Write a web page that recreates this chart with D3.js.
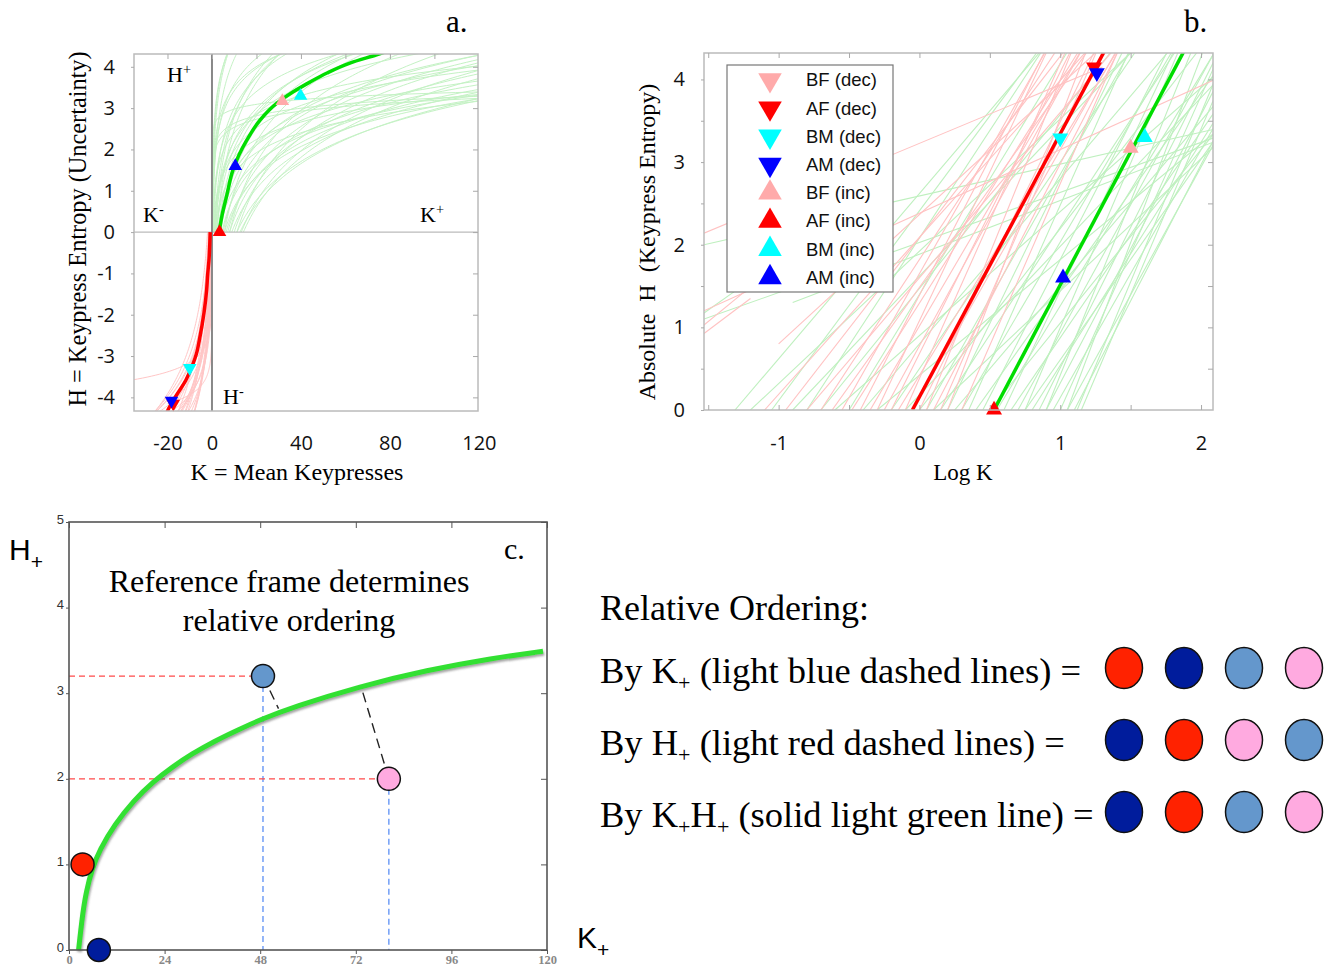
<!DOCTYPE html>
<html><head><meta charset="utf-8">
<script src="https://cdn.jsdelivr.net/npm/d3@7"></script>
<style>body{margin:0;background:#fff} svg{display:block}</style>
</head><body>
<svg id="chart" width="1332" height="966"></svg>
<script>
// ================= DATA =================
// Summary markers shared by panels a and b: |log10 K| and |H|
const markerNames = ["BF (dec)","AF (dec)","BM (dec)","AM (dec)","BF (inc)","AF (inc)","BM (inc)","AM (inc)"];
const markerFill  = ["#ffaaaa","#ff0000","#00ffff","#0000ff","#ffaaaa","#ff0000","#00ffff","#0000ff"];
const markerDir   = ["dec","dec","dec","dec","inc","inc","inc","inc"];
const markerLogK  = [null, 1.24, 1.00, 1.26, 1.50, 0.53, 1.60, 1.02];
const markerAbsH  = [null, 4.15, 3.29, 4.08, 3.17, 0.00, 3.30, 1.60];

// Panel a: group mean curves (K, H)
const aIncK = [3.2, 4.5, 6.7, 9.4, 15.7, 21.6, 29.2, 36.4, 44, 51.7, 62, 74, 78];
const aIncH = [0, 0.4, 0.9, 1.5, 2.23, 2.71, 3.12, 3.39, 3.63, 3.85, 4.09, 4.29, 4.36];
const aDecK = [-0.8, -1.0, -1.35, -1.9, -2.4, -3.6, -5.7, -6.9, -9.1, -11.7, -16.6, -20, -21];
const aDecH = [0, -0.3, -0.68, -1.0, -1.4, -1.96, -2.62, -2.93, -3.27, -3.58, -4.0, -4.33, -4.45];
const aXTickLabels = [-20, 0, 40, 80, 120];
const aYTickLabels = [-4, -3, -2, -1, 0, 1, 2, 3, 4];

// Panel b: group mean lines [logK, H] endpoints
const bIncLine = [[0.53, 0], [1.875, 4.33]];
const bDecLine = [[-0.05, 0], [1.31, 4.33]];
const bXTickLabels = [-1, 0, 1, 2];
const bYTickLabels = [0, 1, 2, 3, 4];

// Individual subject fits, in panel-b space: [logK0, H0, logK1, H1]
const posFaint = [
  [-1.31,0,0.94,4.5],[-1.2,0,1.61,4.5],[-1.05,0,0.91,4.5],[-0.9,0,1.6,4.5],[-0.8,0,0.93,4.5],
  [-0.7,0,1.44,4.5],[-0.6,0,2.1,4.05],[-0.5,0,1.11,4.5],[-0.4,0,1.85,4.5],[-0.3,0,2.1,3.36],
  [-0.2,0,1.6,4.5],[-0.1,0,2.1,3.96],[0.0,0,2.05,4.5],[0.05,0,1.55,4.5],[0.1,0,2.1,3.2],
  [0.15,0,1.88,4.5],[0.2,0,1.49,4.5],[0.25,0,2.1,3.7],[0.3,0,1.85,4.5],[0.35,0,1.53,4.5],
  [0.4,0,2.1,4.08],[0.45,0,1.81,4.5],[0.5,0,2.1,3.36],[0.55,0,2.1,4.34],[0.6,0,1.85,4.5],
  [0.65,0,2.1,3.62],[0.7,0,2.15,4.5],[0.75,0,1.88,4.5],[0.8,0,2.1,3.51],[0.85,0,2.1,4.25],
  [0.9,0,1.97,4.5],[0.95,0,2.1,3.45],[1.0,0,2.1,4.18],[1.05,0,2.05,4.5],[1.1,0,2.1,3.3],
  [1.15,0,2.1,3.8],[1.05,0,2.1,3.25],[0.9,0,2.1,3.9],[0.75,0,2.1,3.28],[1.12,0,2.1,4.0],
  [-1.55,1.15,-1.3,1.45],[-1.53,1.1,2.1,3.3],[-1.53,2.0,2.1,3.4],[-0.9,1.3,2.1,3.25]
];
const negFaint = [
  [-1.1,0,1.27,4.5],[-0.95,0,1.1,4.5],[-0.8,0,1.45,4.5],[-0.7,0,1.03,4.5],[-0.62,0,1.26,4.5],
  [-0.55,0,0.95,4.5],[-0.48,0,1.19,4.5],[-0.42,0,0.94,4.5],[-0.35,0,1.2,4.5],[-0.3,0,0.95,4.5],
  [-0.25,0,1.2,4.5],[-0.2,0,1.12,4.5],[-0.15,0,1.46,4.5],[-0.1,0,1.08,4.5],[-0.05,0,1.45,4.5],
  [0.0,0,1.29,4.5],[0.05,0,1.12,4.5],[0.1,0,1.46,4.5],[0.15,0,1.3,4.5],[0.2,0,1.22,4.5],
  [0.3,0,1.45,4.5],[-1.53,2.14,1.3,4.15],[-1.55,0.9,-1.2,1.35],[-1.55,1.0,-1.25,1.42],
  [-1.53,1.2,2.1,4.0],[-1.0,0.8,1.3,4.4]
];

// Panel c
const cCurveK = [2.4,3.4,4.3,5.8,7.7,11.5,16.3,21.2,26,30.8,36.5,42.3,48,56.3,73,89.9,106.4,119];
const cCurveH = [0,0.42,0.68,0.95,1.17,1.47,1.75,1.97,2.14,2.29,2.44,2.57,2.69,2.84,3.08,3.27,3.41,3.49];
const circleNames = ["red","navy","steel","pink"];
const circleColor = {red:"#ff2200", navy:"#001c9c", steel:"#6497cc", pink:"#ffaae0"};
const circleK = [3.4, 7.5, 48.7, 80.3];
const circleH = [1.0, 0.0, 3.2, 2.0];
const dashedIdx = [2, 3];                       // circles with projection lines
const connectors = [[48.7,3.2,52.6,2.82],[80.3,2.0,73.3,3.08]];
const cXTicks = [0,24,48,72,96,120];
const cYTicks = [0,1,2,3,4,5];

// Relative ordering rows
const orderLabels = [
  [["By K",""],["+","sub"],[" (light blue dashed lines) =",""]],
  [["By H",""],["+","sub"],[" (light red dashed lines) =",""]],
  [["By K",""],["+","sub"],["H",""],["+","sub"],[" (solid light green line) =",""]]
];
const orderRows = [
  ["red","navy","steel","pink"],
  ["navy","red","pink","steel"],
  ["navy","red","steel","pink"]
];

// ================= DRAWING =================
const svg = d3.select("#chart");
const serif = "'Liberation Serif','Times New Roman',serif";
const sans = "'Liberation Sans',Arial,sans-serif";
const tickFont = "'Open Sans','Noto Sans',sans-serif";
const fmt = d => String(d);
const defs = svg.append("defs");

function clip(id, b){
  defs.append("clipPath").attr("id", id).append("rect")
    .attr("x", b.l).attr("y", b.t).attr("width", b.r-b.l).attr("height", b.b-b.t);
}
const tri = size => d3.symbol().type(d3.symbolTriangle).size(size)();
function styleTicks(g, col){ g.select(".domain").remove(); g.selectAll("line").attr("stroke",col||"#aaa"); }

// ---------- Panel a ----------
const A = {l:134, r:478, t:54, b:411};
const xa = d3.scaleLinear().domain([-35.06, 119.6]).range([A.l, A.r]);
const ya = d3.scaleLinear().domain([-4.33, 4.31]).range([A.b, A.t]);
clip("clipA", A);
const gA = svg.append("g");
const lineA = d3.line().x(d=>xa(d[0])).y(d=>ya(d[1]));

function segToLin(seg, sign){
  const [x0,h0,x1,h1] = seg;
  return d3.range(0, 121).map(i => {
    const t = i/120, lk = x0 + (x1-x0)*t, h = h0 + (h1-h0)*t;
    return [sign*Math.pow(10, lk), sign*h];
  });
}
const fA = gA.append("g").attr("clip-path","url(#clipA)");
fA.selectAll(".pf").data(posFaint).join("path")
  .attr("d", d=>lineA(segToLin(d, 1))).attr("fill","none")
  .attr("stroke","#c4f2c4").attr("stroke-width",1);
fA.selectAll(".nf").data(negFaint).join("path")
  .attr("d", d=>lineA(segToLin(d, -1))).attr("fill","none")
  .attr("stroke","#ffc6c6").attr("stroke-width",1);
gA.append("line").attr("x1",A.l).attr("x2",A.r).attr("y1",ya(0)).attr("y2",ya(0))
  .attr("stroke","#bbb").attr("stroke-width",1.2);
gA.append("line").attr("x1",xa(0)).attr("x2",xa(0)).attr("y1",A.t).attr("y2",A.b)
  .attr("stroke","#888").attr("stroke-width",2);
const curveA = d3.line().x(d=>xa(d[0])).y(d=>ya(d[1])).curve(d3.curveMonotoneY);
const mA = gA.append("g").attr("clip-path","url(#clipA)");
mA.append("path").attr("d", curveA(aIncK.map((k,i)=>[k,aIncH[i]])))
  .attr("fill","none").attr("stroke","#00dd00").attr("stroke-width",3.5);
mA.append("path").attr("d", curveA(aDecK.map((k,i)=>[k,aDecH[i]])))
  .attr("fill","none").attr("stroke","#ff0000").attr("stroke-width",3.5);
markerNames.forEach((n,i)=>{
  if (markerLogK[i]===null) return;
  const s = markerDir[i]==="inc" ? 1 : -1;
  const K = s*Math.pow(10, markerLogK[i]), Hh = s*markerAbsH[i];
  gA.append("path").attr("d", tri(80))
    .attr("transform", `translate(${xa(K)},${ya(Hh)}) rotate(${s>0?0:180})`)
    .attr("fill", markerFill[i]);
});
gA.append("rect").attr("x",A.l).attr("y",A.t).attr("width",A.r-A.l).attr("height",A.b-A.t)
  .attr("fill","none").attr("stroke","#bbb").attr("stroke-width",1.5);
gA.append("g").attr("transform",`translate(0,${A.t})`)
  .call(d3.axisTop(xa).tickValues([-20,0,20,40,60,80,100]).tickSize(-5).tickFormat("")).call(styleTicks);
gA.append("g").attr("transform",`translate(${A.r},0)`)
  .call(d3.axisRight(ya).tickValues(aYTickLabels).tickSize(-5).tickFormat("")).call(styleTicks);
gA.append("g").attr("transform",`translate(${A.l},0)`)
  .call(d3.axisLeft(ya).tickValues(aYTickLabels).tickSize(3).tickFormat("")).call(styleTicks);
const axA = gA.append("g").attr("transform",`translate(0,436)`)
  .call(d3.axisBottom(xa).tickValues(aXTickLabels).tickSize(0).tickPadding(0).tickFormat(fmt));
axA.select(".domain").remove();
axA.selectAll("text").attr("font-family",tickFont).attr("font-size",20).attr("fill","#111");
const ayA = gA.append("g").attr("transform",`translate(115,0)`)
  .call(d3.axisLeft(ya).tickValues(aYTickLabels).tickSize(0).tickPadding(0).tickFormat(fmt));
ayA.select(".domain").remove();
ayA.selectAll("text").attr("font-family",tickFont).attr("font-size",20).attr("fill","#111");
gA.append("text").attr("x",297).attr("y",480).attr("text-anchor","middle")
  .attr("font-family",serif).attr("font-size",24).text("K = Mean Keypresses");
gA.append("text").attr("transform","translate(86,229) rotate(-90)").attr("text-anchor","middle")
  .attr("font-family",serif).attr("font-size",24.3).text("H = Keypress Entropy (Uncertainty)");
function supText(g, x, y, base, sup, fs){
  const t = g.append("text").attr("x",x).attr("y",y).attr("font-family",serif).attr("font-size",fs);
  t.append("tspan").text(base);
  t.append("tspan").attr("dy",-fs*0.38).attr("font-size",fs*0.65).text(sup);
}
supText(gA, 167, 82, "H", "+", 22);
supText(gA, 143, 222, "K", "-", 22);
supText(gA, 420, 222, "K", "+", 22);
supText(gA, 223, 404, "H", "-", 22);
gA.append("text").attr("x",446).attr("y",32).attr("font-family",serif).attr("font-size",31).text("a.");

// ---------- Panel b ----------
const B = {l:704, r:1213, t:53, b:410};
const xb = d3.scaleLinear().domain([-1.53, 2.085]).range([B.l, B.r]);
const yb = d3.scaleLinear().domain([0, 4.32]).range([B.b, B.t]);
clip("clipB", B);
const gB = svg.append("g");
const fB = gB.append("g").attr("clip-path","url(#clipB)");
fB.selectAll(".pf").data(posFaint).join("line")
  .attr("x1",d=>xb(d[0])).attr("y1",d=>yb(d[1])).attr("x2",d=>xb(d[2])).attr("y2",d=>yb(d[3]))
  .attr("stroke","#bff0bf").attr("stroke-width",1.1);
fB.selectAll(".nf").data(negFaint).join("line")
  .attr("x1",d=>xb(d[0])).attr("y1",d=>yb(d[1])).attr("x2",d=>xb(d[2])).attr("y2",d=>yb(d[3]))
  .attr("stroke","#ffc2c2").attr("stroke-width",1.1);
const lineB = d3.line().x(d=>xb(d[0])).y(d=>yb(d[1]));
fB.append("path").attr("d", lineB(bDecLine)).attr("stroke","#ff0000").attr("stroke-width",3.5).attr("fill","none");
fB.append("path").attr("d", lineB(bIncLine)).attr("stroke","#00dd00").attr("stroke-width",3.5).attr("fill","none");
markerNames.forEach((n,i)=>{
  if (markerLogK[i]===null) return;
  gB.append("path").attr("d", tri(110))
    .attr("transform", `translate(${xb(markerLogK[i])},${yb(markerAbsH[i])}) rotate(${markerDir[i]==="inc"?0:180})`)
    .attr("fill", markerFill[i]);
});
gB.append("rect").attr("x",B.l).attr("y",B.t).attr("width",B.r-B.l).attr("height",B.b-B.t)
  .attr("fill","none").attr("stroke","#bbb").attr("stroke-width",1.5);
gB.append("g").attr("transform",`translate(0,${B.t})`)
  .call(d3.axisTop(xb).tickValues(d3.range(-1.5,2.01,0.5)).tickSize(-5).tickFormat("")).call(styleTicks);
gB.append("g").attr("transform",`translate(0,${B.b})`)
  .call(d3.axisBottom(xb).tickValues(d3.range(-1.5,2.01,0.5)).tickSize(-5).tickFormat("")).call(styleTicks);
gB.append("g").attr("transform",`translate(${B.r},0)`)
  .call(d3.axisRight(yb).tickValues(d3.range(0.5,4.01,0.5)).tickSize(-5).tickFormat("")).call(styleTicks);
gB.append("g").attr("transform",`translate(${B.l},0)`)
  .call(d3.axisLeft(yb).tickValues(d3.range(0,4.01,0.5)).tickSize(3).tickFormat("")).call(styleTicks);
const axB = gB.append("g").attr("transform",`translate(0,436)`)
  .call(d3.axisBottom(xb).tickValues(bXTickLabels).tickSize(0).tickPadding(0).tickFormat(fmt));
axB.select(".domain").remove();
axB.selectAll("text").attr("font-family",tickFont).attr("font-size",20).attr("fill","#111");
const ayB = gB.append("g").attr("transform",`translate(685,0)`)
  .call(d3.axisLeft(yb).tickValues(bYTickLabels).tickSize(0).tickPadding(0).tickFormat(fmt));
ayB.select(".domain").remove();
ayB.selectAll("text").attr("font-family",tickFont).attr("font-size",20).attr("fill","#111");
gB.append("text").attr("x",963).attr("y",480).attr("text-anchor","middle")
  .attr("font-family",serif).attr("font-size",23).text("Log K");
gB.append("text").attr("transform","translate(655,242) rotate(-90)").attr("text-anchor","middle")
  .attr("font-family",serif).attr("font-size",24).style("white-space","pre")
  .text("Absolute  H  (Keypress Entropy)");
gB.append("text").attr("x",1184).attr("y",32).attr("font-family",serif).attr("font-size",31).text("b.");
const leg = gB.append("g");
leg.append("rect").attr("x",727).attr("y",65).attr("width",166).attr("height",227)
  .attr("fill","#fff").attr("stroke","#777").attr("stroke-width",1.2);
markerNames.forEach((n,i)=>{
  const y = 80 + i*28.2;
  leg.append("path").attr("d", tri(240))
    .attr("transform",`translate(770,${y}) rotate(${markerDir[i]==="inc"?0:180})`)
    .attr("fill", markerFill[i]);
  leg.append("text").attr("x",806).attr("y",y).attr("dy","0.35em")
    .attr("font-family",sans).attr("font-size",18.5).attr("fill","#111").text(n);
});

// ---------- Panel c ----------
const C = {l:69, r:547, t:522, b:950};
const xc = d3.scaleLinear().domain([0,120]).range([C.l, C.r]);
const yc = d3.scaleLinear().domain([0,5]).range([C.b, C.t]);
const gC = svg.append("g");
const flt = defs.append("filter").attr("id","shadow").attr("x","-10%").attr("y","-10%").attr("width","120%").attr("height","120%");
flt.append("feDropShadow").attr("dx",1).attr("dy",2).attr("stdDeviation",1.2)
  .attr("flood-color","#555").attr("flood-opacity",0.55);
dashedIdx.forEach(i=>{
  gC.append("line").attr("x1",xc(0)).attr("x2",xc(circleK[i])).attr("y1",yc(circleH[i])).attr("y2",yc(circleH[i]))
    .attr("stroke","#ff4a4a").attr("stroke-width",1.3).attr("stroke-dasharray","6,4");
  gC.append("line").attr("x1",xc(circleK[i])).attr("x2",xc(circleK[i])).attr("y1",yc(circleH[i])).attr("y2",yc(0))
    .attr("stroke","#5b8ff5").attr("stroke-width",1.3).attr("stroke-dasharray","6,4");
});
gC.selectAll(".conn").data(connectors).join("line")
  .attr("x1",d=>xc(d[0])).attr("y1",d=>yc(d[1])).attr("x2",d=>xc(d[2])).attr("y2",d=>yc(d[3]))
  .attr("stroke","#222").attr("stroke-width",1.4).attr("stroke-dasharray","10,6");
const curveC = d3.line().x(d=>xc(d[0])).y(d=>yc(d[1])).curve(d3.curveBasis);
gC.append("path").attr("d", curveC(cCurveK.map((k,i)=>[k,cCurveH[i]])))
  .attr("fill","none").attr("stroke","#33e033").attr("stroke-width",5).attr("filter","url(#shadow)");
gC.append("rect").attr("x",C.l).attr("y",C.t).attr("width",C.r-C.l).attr("height",C.b-C.t)
  .attr("fill","none").attr("stroke","#555").attr("stroke-width",1.6);
gC.append("g").attr("transform",`translate(0,${C.t})`)
  .call(d3.axisTop(xc).tickValues(cXTicks).tickSize(-6).tickFormat("")).call(g=>styleTicks(g,"#555"));
gC.append("g").attr("transform",`translate(0,${C.b})`)
  .call(d3.axisBottom(xc).tickValues(cXTicks).tickSize(4).tickFormat("")).call(g=>styleTicks(g,"#555"));
gC.append("g").attr("transform",`translate(${C.r},0)`)
  .call(d3.axisRight(yc).tickValues(cYTicks).tickSize(-6).tickFormat("")).call(g=>styleTicks(g,"#555"));
gC.append("g").attr("transform",`translate(${C.l},0)`)
  .call(d3.axisLeft(yc).tickValues(cYTicks).tickSize(3).tickFormat("")).call(g=>styleTicks(g,"#555"));
const axC = gC.append("g").attr("transform",`translate(0,${C.b+5})`)
  .call(d3.axisBottom(xc).tickValues(cXTicks).tickSize(0).tickPadding(0).tickFormat(fmt));
axC.select(".domain").remove();
axC.selectAll("text").attr("font-family",serif).attr("font-size",12.5).attr("font-weight","bold").attr("fill","#888");
const ayC = gC.append("g").attr("transform",`translate(${C.l-5},0)`)
  .call(d3.axisLeft(yc).tickValues(cYTicks).tickSize(0).tickPadding(0).tickFormat(fmt));
ayC.select(".domain").remove();
ayC.selectAll("text").attr("font-family",sans).attr("font-size",13).attr("fill","#333").attr("dy","0.1em");
circleNames.forEach((n,i)=>{
  gC.append("circle").attr("cx",xc(circleK[i])).attr("cy",yc(circleH[i])).attr("r",11.5)
    .attr("fill",circleColor[n]).attr("stroke","#111").attr("stroke-width",1.5);
});
gC.append("text").attr("x",289).attr("y",592).attr("text-anchor","middle")
  .attr("font-family",serif).attr("font-size",32).text("Reference frame determines");
gC.append("text").attr("x",289).attr("y",631).attr("text-anchor","middle")
  .attr("font-family",serif).attr("font-size",32).text("relative ordering");
gC.append("text").attr("x",504).attr("y",559).attr("font-family",serif).attr("font-size",30).text("c.");
function subText(g, x, y, base, fs){
  const t = g.append("text").attr("x",x).attr("y",y).attr("font-family",sans).attr("font-size",fs);
  t.append("tspan").text(base);
  t.append("tspan").attr("dy",fs*0.3).attr("font-size",fs*0.7).text("+");
}
subText(gC, 9, 560, "H", 30);
subText(gC, 577, 948, "K", 30);

// ---------- Relative ordering ----------
const gR = svg.append("g");
gR.append("text").attr("x",600).attr("y",620).attr("font-family",serif).attr("font-size",36).text("Relative Ordering:");
const rowY = [668, 740, 812];
orderLabels.forEach((parts,r)=>{
  const t = gR.append("text").attr("x",600).attr("y",rowY[r]+15).attr("font-family",serif).attr("font-size",36.5);
  let shifted = false;
  parts.forEach(([s,k])=>{
    const ts = t.append("tspan").text(s);
    if (k==="sub"){ ts.attr("dy",7).attr("font-size",22); shifted=true; }
    else if (shifted){ ts.attr("dy",-7); shifted=false; }
  });
});
const colX = [1124, 1184, 1244, 1304];
orderRows.forEach((row,r)=>{
  row.forEach((n,c)=>{
    gR.append("ellipse").attr("cx",colX[c]).attr("cy",rowY[r]).attr("rx",18.5).attr("ry",20.5)
      .attr("fill",circleColor[n]).attr("stroke","#111").attr("stroke-width",1.5);
  });
});
</script>
</body></html>
